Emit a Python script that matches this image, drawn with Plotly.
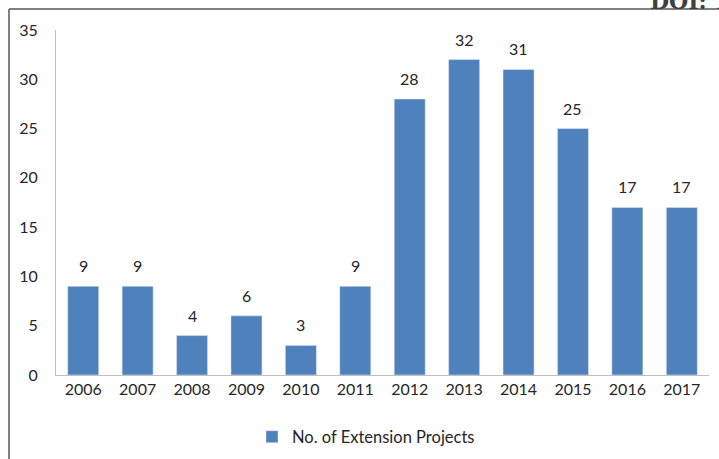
import plotly.graph_objects as go

years = ["2006", "2007", "2008", "2009", "2010", "2011", "2012", "2013", "2014", "2015", "2016", "2017"]
projects = [9, 9, 4, 6, 3, 9, 28, 32, 31, 25, 17, 17]
y_ticks = [0, 5, 10, 15, 20, 25, 30, 35]

W, H = 719, 459
L, R, T, B = 56, 10, 30, 84
pw, ph = W - L - R, H - T - B

def px(x):
    return (x - L) / pw

def py(y):
    return (H - B - y) / ph

font = "Lato, Open Sans, sans-serif"
fig = go.Figure(go.Bar(
    x=years, y=projects, name="No. of Extension Projects",
    marker_color="#4f81bd",
))
frame = dict(color="#7f7f7f", width=2)
# category axis: annotation x given as category index
labels = [dict(x=i, y=v, text=str(v), showarrow=False, yanchor="bottom", yshift=9,
               font=dict(size=16, color="#262626", family=font))
          for i, v in enumerate(projects)]
fig.update_layout(
    width=W, height=H, margin=dict(l=L, r=R, t=T, b=B, autoexpand=False),
    plot_bgcolor="white", paper_bgcolor="white",
    bargap=0.43, showlegend=True,
    font=dict(family=font, size=16, color="#262626"),
    legend=dict(orientation="h", x=px(366), xanchor="center", y=py(437), yanchor="middle",
                font=dict(size=16.5), itemwidth=30),
    xaxis=dict(type="category", showline=True, linecolor="#bfbfbf", linewidth=1, ticks="",
               showgrid=False, tickfont=dict(size=16)),
    yaxis=dict(range=[0, 35], tickvals=y_ticks, showline=True, linecolor="#bfbfbf", linewidth=1,
               showgrid=False, zeroline=False, ticks="", ticklabelstandoff=14, tickfont=dict(size=16)),
    shapes=[
        dict(type="line", xref="paper", yref="paper", x0=px(9), x1=px(9), y0=py(470), y1=py(9), line=frame),
        dict(type="line", xref="paper", yref="paper", x0=px(9), x1=px(730), y0=py(9), y1=py(9), line=frame),
    ],
    annotations=labels + [dict(text="<b>DOI: 10</b>", xref="paper", yref="paper", x=px(648), y=py(16),
                      xanchor="left", yanchor="bottom", showarrow=False,
                      font=dict(family="DejaVu Serif, serif", size=22, color="#404040"))],
)
fig.write_html("out.html", config={"displayModeBar": False},
               post_script="document.body.style.margin='0';document.body.style.overflow='hidden';")
